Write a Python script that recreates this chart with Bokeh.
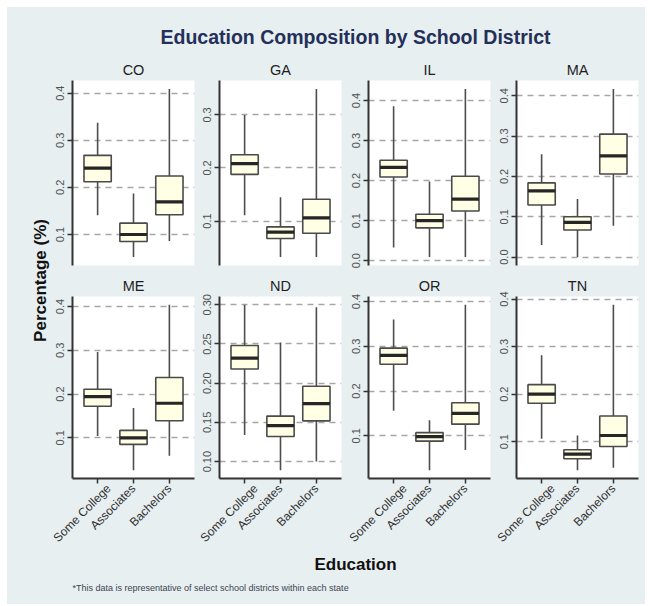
import math

from bokeh.embed import file_html
from bokeh.layouts import column, row
from bokeh.models import (ColumnDataSource, FactorRange, FixedTicker,
                          PrintfTickFormatter, Range1d, Spacer, Title)
from bokeh.plotting import figure
from bokeh.resources import INLINE

# ---------------------------------------------------------------- data
states = ["CO", "GA", "IL", "MA", "ME", "ND", "OR", "TN"]
education = ["Some College", "Associates", "Bachelors"]

# five-number summaries per state, ordered as in `education`
whisker_lo = {
    "CO": [0.141, 0.052, 0.086], "GA": [0.111, 0.032, 0.032],
    "IL": [0.033, 0.009, 0.009], "MA": [0.030, 0.000, 0.078],
    "ME": [0.104, 0.026, 0.059], "ND": [0.134, 0.089, 0.100],
    "OR": [0.156, 0.023, 0.068], "TN": [0.106, 0.040, 0.045],
}
quart_lo = {
    "CO": [0.212, 0.085, 0.142], "GA": [0.188, 0.067, 0.077],
    "IL": [0.209, 0.082, 0.124], "MA": [0.129, 0.067, 0.206],
    "ME": [0.172, 0.085, 0.139], "ND": [0.218, 0.132, 0.152],
    "OR": [0.260, 0.088, 0.126], "TN": [0.181, 0.064, 0.090],
}
median = {
    "CO": [0.241, 0.100, 0.169], "GA": [0.208, 0.079, 0.106],
    "IL": [0.233, 0.100, 0.154], "MA": [0.164, 0.086, 0.251],
    "ME": [0.194, 0.100, 0.179], "ND": [0.232, 0.146, 0.174],
    "OR": [0.280, 0.098, 0.150], "TN": [0.200, 0.074, 0.113],
}
quart_hi = {
    "CO": [0.268, 0.124, 0.224], "GA": [0.225, 0.089, 0.141],
    "IL": [0.251, 0.116, 0.211], "MA": [0.184, 0.100, 0.305],
    "ME": [0.211, 0.117, 0.238], "ND": [0.248, 0.158, 0.196],
    "OR": [0.296, 0.107, 0.174], "TN": [0.220, 0.083, 0.154],
}
whisker_hi = {
    "CO": [0.337, 0.187, 0.409], "GA": [0.300, 0.145, 0.349],
    "IL": [0.386, 0.198, 0.429], "MA": [0.255, 0.144, 0.417],
    "ME": [0.296, 0.168, 0.404], "ND": [0.300, 0.252, 0.297],
    "OR": [0.360, 0.135, 0.393], "TN": [0.282, 0.113, 0.388],
}
tick_step = {"ND": 0.05}  # all other panels step by 0.1

title_text = "Education Composition by School District"
y_label = "Percentage (%)"
x_label = "Education"
footnote = "*This data is representative of select school districts within each state"

# ---------------------------------------------------------------- style
BG = "#e7eff0"
FONT = "Liberation Sans"
BOX_FILL = "#ffffe6"
AXIS_COLOR = "#333333"
BG_STYLE = {"background-color": BG}

# per-column figure widths and right borders (left border is fixed at 22)
col_widths = [147, 149, 148, 151]
col_right = [3, 5, 4, 7]
LEFT = 22
TOP_H, BOT_H = 213, 284


def base_fig(**kw):
    p = figure(output_backend="svg", toolbar_location=None, tools="",
               background_fill_color=BG, border_fill_color=BG,
               outline_line_color=None, x_axis_location=None,
               y_axis_location=None, **kw)
    p.grid.visible = False
    return p


def panel(state, col, bottom):
    lo, hi = min(whisker_lo[state]), max(whisker_hi[state])
    pad = (hi - lo) * 0.05
    step = tick_step.get(state, 0.1)
    ticks = [round(k * step, 3) for k in range(int(math.ceil((lo - pad) / step - 1e-9)),
                                                 int(math.floor((hi + pad) / step + 1e-9)) + 1)]

    p = figure(
        width=col_widths[col], height=BOT_H if bottom else TOP_H,
        x_range=FactorRange(*education, range_padding=0.2, range_padding_units="absolute"),
        y_range=Range1d(lo - pad, hi + pad),
        output_backend="svg", toolbar_location=None, tools="",
        x_axis_location="below" if bottom else None,
        min_border_left=LEFT, min_border_right=col_right[col],
        min_border_top=28 if bottom else 25,
        min_border_bottom=72 if bottom else 3,
        background_fill_color="white", border_fill_color=BG,
        outline_line_color=None, title=state,
    )
    p.title.align = "center"
    p.title.text_font = FONT
    p.title.text_font_size = "14.5px"
    p.title.text_font_style = "normal"
    p.title.text_color = "#1e1e1e"
    p.title.standoff = 5

    src = ColumnDataSource(dict(
        edu=education, lo=whisker_lo[state], q1=quart_lo[state],
        med=median[state], q3=quart_hi[state], hi=whisker_hi[state],
    ))
    p.segment(x0="edu", y0="lo", x1="edu", y1="hi", source=src,
              line_color="#4d4d4d", line_width=1.6)
    p.vbar(x="edu", bottom="q1", top="q3", width=0.76, source=src,
           fill_color=BOX_FILL, line_color="#4a4a4a", line_width=1.6)
    p.vbar(x="edu", bottom="med", top="med", width=0.76, source=src,
           fill_alpha=0, line_color="#262626", line_width=3.2)

    ax = p.yaxis[0]
    ax.ticker = FixedTicker(ticks=ticks, minor_ticks=[])
    ax.formatter = PrintfTickFormatter(format="%.2f" if step < 0.1 else "%.1f")
    ax.major_label_orientation = "vertical"
    ax.major_label_text_font = FONT
    ax.major_label_text_font_size = "11px"
    ax.major_label_text_color = "#505050"
    ax.major_label_standoff = 3
    ax.axis_line_color = AXIS_COLOR
    ax.axis_line_width = 2
    ax.major_tick_line_color = AXIS_COLOR
    ax.major_tick_line_width = 1.5
    ax.major_tick_out = 5
    ax.major_tick_in = 0
    ax.minor_tick_out = 0
    ax.minor_tick_in = 0

    p.xgrid.visible = False
    p.ygrid.grid_line_color = "#a6a6a6"
    p.ygrid.grid_line_dash = "6 5"
    p.ygrid.grid_line_width = 1.3

    if bottom:
        xa = p.xaxis[0]
        xa.major_label_orientation = math.pi / 4
        xa.major_label_text_font = FONT
        xa.major_label_text_font_size = "12px"
        xa.major_label_text_color = "#303030"
        xa.major_label_standoff = 3
        xa.axis_line_color = AXIS_COLOR
        xa.axis_line_width = 2
        xa.major_tick_line_color = AXIS_COLOR
        xa.major_tick_line_width = 1.5
        xa.major_tick_out = 5
        xa.major_tick_in = 0
    return p


top_row = row(*[panel(s, i, False) for i, s in enumerate(states[:4])], styles=BG_STYLE)
bottom_row = row(*[panel(s, i, True) for i, s in enumerate(states[4:])], styles=BG_STYLE)

# overall title, centred over the panels
header = base_fig(width=638, height=48, x_range=Range1d(0, 1), y_range=Range1d(0, 1),
                  min_border_left=65, min_border_right=7, min_border_top=40,
                  min_border_bottom=0, title=title_text)
header.title.align = "center"
header.title.text_font = FONT
header.title.text_font_size = "19.5px"
header.title.text_font_style = "bold"
header.title.text_color = "#242f5a"
header.title.standoff = 0

# shared y-axis label down the left side
ylab = base_fig(width=43, height=TOP_H + BOT_H, x_range=Range1d(0, 1), y_range=Range1d(0, 1),
                min_border_left=42, min_border_right=0, min_border_top=25,
                min_border_bottom=72, title=y_label, title_location="left")
ylab.title.align = "center"
ylab.title.text_font = FONT
ylab.title.text_font_size = "17px"
ylab.title.text_font_style = "bold"
ylab.title.text_color = "#111111"
ylab.title.standoff = 0

# shared x-axis label and footnote
footer = base_fig(width=638, height=52, x_range=Range1d(0, 1), y_range=Range1d(0, 1),
                  min_border_left=65, min_border_right=7, min_border_top=20,
                  min_border_bottom=24, title=x_label)
footer.title.align = "center"
footer.title.text_font = FONT
footer.title.text_font_size = "17px"
footer.title.text_font_style = "bold"
footer.title.text_color = "#111111"
footer.title.standoff = 0
footer.add_layout(Title(text=footnote, align="left", text_font=FONT,
                        text_font_size="9px", text_font_style="normal",
                        text_color="#3d4352", standoff=0), "below")

panels = column(top_row, bottom_row, styles=BG_STYLE)
content = column(header, row(ylab, panels, styles=BG_STYLE), footer, styles=BG_STYLE)
page = column(Spacer(height=7), row(Spacer(width=7), content))

open("out.html", "w").write(file_html(page, INLINE, title=title_text))
